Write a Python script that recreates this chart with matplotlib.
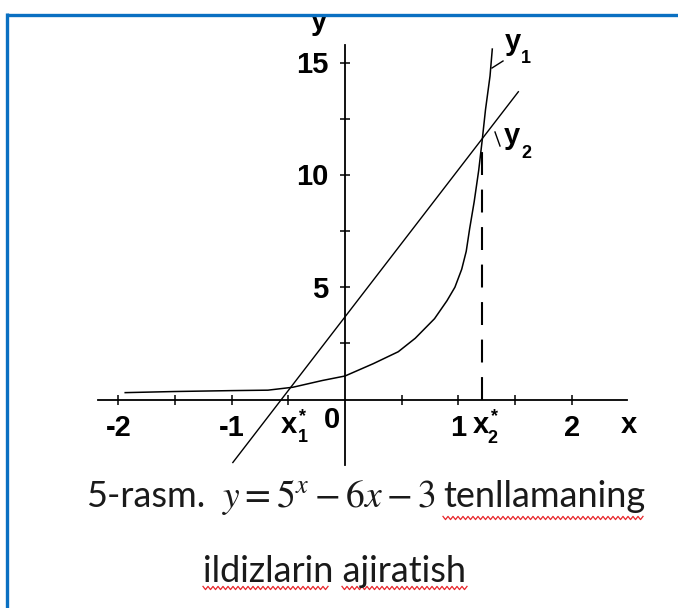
import numpy as np
import matplotlib.pyplot as plt
from matplotlib.lines import Line2D

# y1 = 5^x, points taken along the drawn curve
curve_x = [-1.94, -1.5, -1.0, -0.68, -0.46, -0.2, 0.0, 0.25, 0.47, 0.62,
           0.79, 0.90, 0.97, 1.03, 1.07, 1.10, 1.14, 1.18, 1.21, 1.24, 1.28, 1.30]
curve_y = [0.31, 0.36, 0.40, 0.42, 0.55, 0.85, 1.05, 1.6, 2.13, 2.73,
           3.6, 4.4, 5.0, 5.8, 6.6, 7.6, 8.8, 10.2, 11.5, 12.9, 14.4, 15.6]

# y2 = 6x + 3, drawn as a straight segment
line_x = [-0.99, 1.53]
line_y = [-2.8, 13.7]

# second root and its height on the graphs
root2_x = 1.21
root2_y = 11.4

x_ticks = [-2, -1.5, -1, -0.5, 0.5, 1, 1.5, 2]
x_tick_labels = ['-2', '-1', '1', '2']
x_tick_label_pos = [-2, -1, 1, 2]
y_ticks = [2.5, 5, 7.5, 10, 12.5, 15]
y_tick_labels = ['5', '10', '15']
y_tick_label_pos = [5, 10, 15]

W, H = 678, 608
X0, Y0, SX, SY = 345, 399.6, 113.3, 22.47   # origin in pixels, pixels per unit

fig = plt.figure(figsize=(W / 100, H / 100), dpi=100)
fig.patch.set_facecolor('white')

ax = fig.add_axes([0, 0, 1, 1])
ax.patch.set_alpha(0)
ax.set_xlim(-X0 / SX, (W - X0) / SX)
ax.set_ylim((Y0 - H) / SY, Y0 / SY)


def at(px, py):
    # pixel position -> data position
    return (px - X0) / SX, (Y0 - py) / SY


for s in ['top', 'right']:
    ax.spines[s].set_visible(False)
ax.spines['left'].set_position(('data', 0))
ax.spines['bottom'].set_position(('data', 0))
ax.spines['left'].set_bounds(-2.9, 15.8)
ax.spines['bottom'].set_bounds(-2.18, 2.49)
for s in ['left', 'bottom']:
    ax.spines[s].set_linewidth(1.3)
ax.set_xticks(x_ticks)
ax.set_yticks(y_ticks)
ax.tick_params(direction='inout', length=6.5, width=1.1, labelbottom=False, labelleft=False)

ax.plot(curve_x, curve_y, color='black', lw=1.1)
ax.plot(line_x, line_y, color='black', lw=1.0)
ax.plot([root2_x, root2_x], [0, root2_y], color='black', lw=1.5, linestyle=(0, (11, 7)))

big = dict(family='Liberation Sans', fontsize=21, fontweight='bold', color='black')
small = dict(family='Liberation Sans', fontsize=13, fontweight='bold', color='black')

# tick labels
for v, lab in zip(x_tick_label_pos, x_tick_labels):
    ax.text(v, -1.62, lab, ha='center', va='baseline', **big)
for v, lab in zip(y_tick_label_pos, y_tick_labels):
    ax.text(-0.15, v - 0.46, lab, ha='right', va='baseline', **big)
ax.text(*at(332.5, 428), '0', ha='center', va='baseline', **big)
ax.text(*at(628.5, 433), 'x', ha='center', va='baseline', **big)
ax.text(*at(319, 30), 'y', ha='center', va='baseline', **big)

# root labels x1*, x2*
ax.text(*at(289, 433), 'x', ha='center', va='baseline', **big)
ax.text(*at(302.5, 442), '1', ha='center', va='baseline', **small)
ax.text(*at(303, 421), '*', ha='center', va='baseline', **small)
ax.text(*at(481, 433), 'x', ha='center', va='baseline', **big)
ax.text(*at(492.5, 443), '2', ha='center', va='baseline', **small)
ax.text(*at(495, 421), '*', ha='center', va='baseline', **small)

# curve names with leader strokes
ax.text(*at(513, 50), 'y', ha='center', va='baseline', **big)
ax.text(*at(525.5, 63), '1', ha='center', va='baseline', **small)
ax.plot(*zip(at(492, 68), at(503, 61)), color='black', lw=1.0)
ax.text(*at(512, 144), 'y', ha='center', va='baseline', **big)
ax.text(*at(526, 158), '2', ha='center', va='baseline', **small)
ax.plot(*zip(at(495, 132), at(500, 146)), color='black', lw=1.0)


def fx(px):
    return px / W


def fy(py):
    return 1 - py / H


def wavy(x0, x1, y, period=5.0, amp=1.6):
    xs = np.arange(x0, x1 + 0.01, period / 2)
    ys = y + amp * np.where(np.arange(len(xs)) % 2 == 0, -1, 1)
    fig.lines.append(Line2D([fx(v) for v in xs], [fy(v) for v in ys],
                            transform=fig.transFigure, color='#e8262b', lw=0.9))


# caption
plt.rcParams['mathtext.fontset'] = 'stix'
cap_font = dict(family='Lato', fontsize=26, color='#1a1a1a', va='baseline')
fig.text(fx(205), fy(507), '5-rasm.', ha='right', **cap_font)
fig.text(fx(222), fy(507), r'$y = 5^{x} - 6x - 3$', ha='left', fontsize=27,
         color='#1a1a1a', va='baseline')
fig.text(fx(443), fy(507), 'tenllamaning', ha='left', **cap_font)
fig.text(fx(203), fy(582), 'ildizlarin ajiratish', ha='left', **cap_font)
wavy(443, 643, 518)
wavy(203, 330, 588)
wavy(342, 467, 588)

# blue frame at the top and left
blue = '#0a70c2'
fig.lines.append(Line2D([fx(6.5), fx(W)], [fy(14.5), fy(14.5)], transform=fig.transFigure,
                        color=blue, lw=2.4, solid_capstyle='butt'))
fig.lines.append(Line2D([fx(6.5), fx(6.5)], [fy(13.3), fy(H)], transform=fig.transFigure,
                        color=blue, lw=2.4, solid_capstyle='butt'))

fig.savefig('out.png', dpi=100)
